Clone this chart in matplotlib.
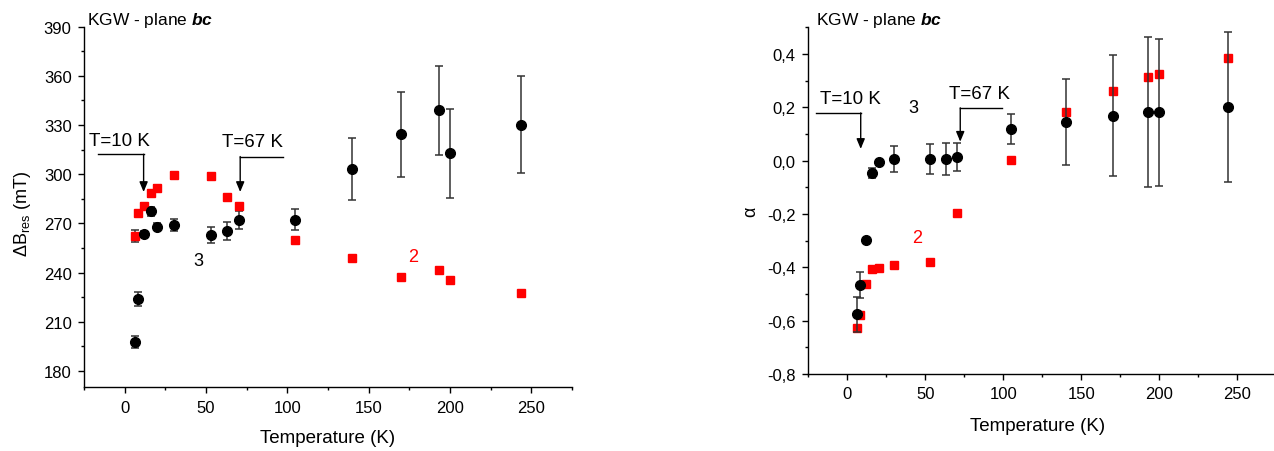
import matplotlib
matplotlib.use('Agg')
import matplotlib.pyplot as plt
from matplotlib.ticker import MultipleLocator, FuncFormatter

plt.rcParams['font.family'] = 'Liberation Sans'
plt.rcParams['mathtext.fontset'] = 'custom'
plt.rcParams['mathtext.rm'] = 'Liberation Sans'
plt.rcParams['mathtext.it'] = 'Liberation Sans:style=italic'
plt.rcParams['mathtext.bf'] = 'Liberation Sans:style=italic:weight=bold'

# left panel: resonance field shift
temp = [6, 8, 12, 16, 20, 30, 53, 63, 70, 105, 140, 170, 193, 200, 244]
dB_3 = [197.7, 223.9, 263.5, 277.2, 268.0, 269.0, 262.7, 265.4, 272.3, 272.3,
        303.0, 324.3, 338.8, 312.7, 330.2]
dB_3_err = [3.7, 4.2, 2.0, 3.0, 2.0, 3.5, 5.0, 5.5, 5.5, 6.5, 19, 26, 27, 27, 29.5]
dB_2 = [262.3, 276.0, 280.6, 288.2, 291.6, 299.3, 298.7, 285.9, 280.6, 259.9,
        248.7, 237.3, 241.6, 235.5, 227.2]
dB_2_err = [3.5, 1.5, 1.5, 2, 1.5, 2, 2, 1, 1, 0, 0, 0, 0, 0, 0]

# right panel: alpha
alpha_3 = [-0.576, -0.466, -0.296, -0.046, -0.004, 0.006, 0.006, 0.005, 0.015, 0.119,
           0.145, 0.168, 0.183, 0.181, 0.201]
alpha_3_err = [0.066, 0.05, 0.0, 0.02, 0.005, 0.05, 0.057, 0.06, 0.052, 0.055,
               0.16, 0.227, 0.28, 0.277, 0.28]
temp_2r = [6, 8, 12, 16, 20, 30, 53, 70, 105, 140, 170, 193, 200, 244]
alpha_2 = [-0.628, -0.579, -0.464, -0.406, -0.402, -0.391, -0.380, -0.195, 0.003,
           0.184, 0.262, 0.315, 0.325, 0.385]

W, H = 1274, 452
fig = plt.figure(figsize=(W / 100, H / 100), dpi=100)

ax1 = fig.add_axes([84.1 / W, 1 - 388.3 / H, 487.8 / W, 360.8 / H])
ax2 = fig.add_axes([808.3 / W, 1 - 375 / H, 468 / W, 346.7 / H])

ebkw = dict(ecolor='#333333', elinewidth=1.1, capsize=3, capthick=1.1, linestyle='none')

ax1.errorbar(temp, dB_2, yerr=dB_2_err, marker='s', ms=6, mfc='red', mec='red', **ebkw)
ax1.errorbar(temp, dB_3, yerr=dB_3_err, marker='o', ms=7, mfc='black', mec='black', **ebkw)

ax2.plot(temp_2r, alpha_2, marker='s', ms=6, color='red', linestyle='none')
ax2.errorbar(temp, alpha_3, yerr=alpha_3_err, marker='o', ms=7, mfc='black', mec='black', **ebkw)

ax1.set_xlim(-25, 275)
ax1.set_ylim(170, 390)
ax2.set_xlim(-25, 275)
ax2.set_ylim(-0.8, 0.5)

for ax in (ax1, ax2):
    for s in ('top', 'right'):
        ax.spines[s].set_visible(False)
    for s in ('left', 'bottom'):
        ax.spines[s].set_linewidth(1.0)
    ax.xaxis.set_major_locator(MultipleLocator(50))
    ax.xaxis.set_minor_locator(MultipleLocator(25))
    ax.tick_params(which='major', direction='out', length=4, width=1, labelsize=12, pad=5)
    ax.tick_params(which='minor', direction='out', length=2.5, width=1)

ax1.yaxis.set_major_locator(MultipleLocator(30))
ax1.yaxis.set_minor_locator(MultipleLocator(15))
ax2.yaxis.set_major_locator(MultipleLocator(0.2))
ax2.yaxis.set_minor_locator(MultipleLocator(0.1))
ax2.yaxis.set_major_formatter(FuncFormatter(lambda v, p: f'{v:.1f}'.replace('.', ',')))

ax1.text(0.5, -0.14, 'Temperature (K)', transform=ax1.transAxes, ha='center', va='center', fontsize=13.5)
ax2.text(0.49, -0.149, 'Temperature (K)', transform=ax2.transAxes, ha='center', va='center', fontsize=13.5)
ax1.text(-0.126, 0.482, r'$\mathregular{\Delta B_{res}}$ (mT)', transform=ax1.transAxes,
         rotation=90, ha='center', va='center', fontsize=13)
ax2.text(-0.122, 0.471, 'α', transform=ax2.transAxes,
         rotation=90, ha='center', va='center', fontsize=13)

fig.text(87 / W, 1 - 20.7 / H, r'KGW - plane $\mathbf{bc}$', ha='left', va='center', fontsize=12.5)
fig.text(815.7 / W, 1 - 20.7 / H, r'KGW - plane $\mathbf{bc}$', ha='left', va='center', fontsize=12.5)

def bent_arrow(ax, x0, x1, y0, y1):
    ax.plot([x0, x1], [y0, y0], color='black', lw=1)
    ax.annotate('', xy=(x1, y1), xytext=(x1, y0),
                arrowprops=dict(arrowstyle='-|>,head_width=0.25,head_length=0.6',
                                color='black', lw=1, shrinkA=0, shrinkB=0))

bent_arrow(ax1, -16.7, 11.6, 312.1, 289.1)
bent_arrow(ax1, 97.3, 71, 310.7, 289.1)
ax1.text(-3.4, 320.7, 'T=10 K', ha='center', va='center', fontsize=13.5)
ax1.text(78.4, 320.0, 'T=67 K', ha='center', va='center', fontsize=13.5)
ax1.text(45.4, 247.5, '3', ha='center', va='center', fontsize=13)
ax1.text(177.6, 249.5, '2', ha='center', va='center', fontsize=13, color='red')

bent_arrow(ax2, -19.9, 8.6, 0.179, 0.044)
bent_arrow(ax2, 99, 72.4, 0.198, 0.071)
ax2.text(1.7, 0.233, 'T=10 K', ha='center', va='center', fontsize=13.5)
ax2.text(85, 0.25, 'T=67 K', ha='center', va='center', fontsize=13.5)
ax2.text(42.3, 0.2, '3', ha='center', va='center', fontsize=13)
ax2.text(44.5, -0.29, '2', ha='center', va='center', fontsize=13, color='red')

fig.savefig('out.png', dpi=100)
